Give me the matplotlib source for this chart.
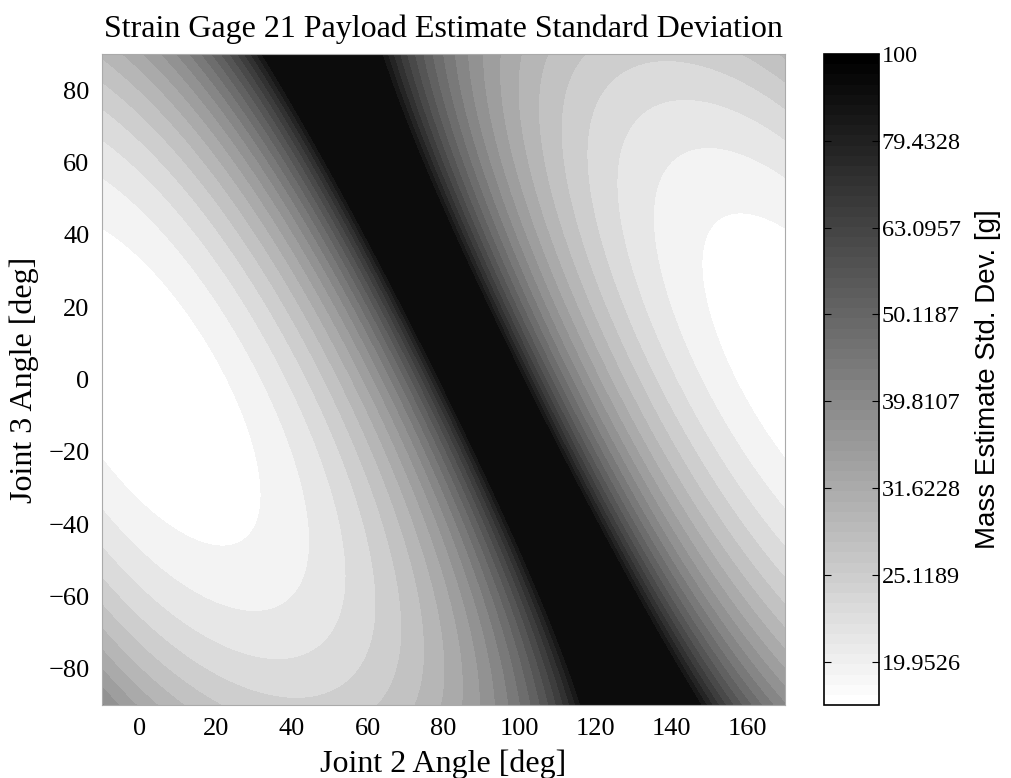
import matplotlib
matplotlib.use('Agg')
import matplotlib.pyplot as plt
from matplotlib.colors import ListedColormap, Normalize
from matplotlib.cm import ScalarMappable
import numpy as np

# joint ranges [deg]
q2_range = [-10, 170]
q3_range = [-90, 90]

# arm model: link lengths (relative) and gauge noise
link_lengths = [1.11, 1.0]
gauge_noise = 37.5
std_cap = 100.0

# colour scale (log10 of grams) and colorbar tick positions
clim = [1.25, 2.0]
cbar_ticks = [1.3, 1.4, 1.5, 1.6, 1.7, 1.8, 1.9, 2.0]
n_levels = 22

q2 = np.linspace(q2_range[0], q2_range[1], 721)
q3 = np.linspace(q3_range[0], q3_range[1], 721)
Q2, Q3 = np.meshgrid(q2, q3)

# moment arm seen by the gauge; payload estimate std scales with 1/|moment|
L2, L3 = link_lengths
moment = L2 * np.cos(np.radians(Q2)) + L3 * np.cos(np.radians(Q2 + Q3))
sd = gauge_noise / np.maximum(np.abs(moment), 1e-9)
Z = np.log10(np.minimum(sd, std_cap))

# 64 step inverted grey map
grey = np.linspace(1, 0, 64)
cmap = ListedColormap([[g, g, g] for g in grey])
norm = Normalize(clim[0], clim[1])

levels = np.linspace(clim[0], clim[1], n_levels)
idx = np.clip(((levels[:-1] - clim[0]) / (clim[1] - clim[0]) * 64).astype(int), 0, 63)
fill_cols = [cmap(i) for i in idx]

serif = ['Liberation Serif', 'DejaVu Serif']
sans = ['Liberation Sans', 'DejaVu Sans']

fig = plt.figure(figsize=(10.11, 7.78), dpi=100)
ax = fig.add_axes([0.1009, 0.0938, 0.6756, 0.8368])
ax.contourf(Q2, Q3, Z, levels=levels, colors=fill_cols, antialiased=False)
ax.set_xlim(q2_range)
ax.set_ylim(q3_range)
ax.set_xticks(np.arange(0, 161, 20))
ax.set_yticks(np.arange(-80, 81, 20))
ax.tick_params(length=0, labelsize=19, pad=9)
for lbl in ax.get_xticklabels() + ax.get_yticklabels():
    lbl.set_fontfamily(serif)
for s in ax.spines.values():
    s.set_color('#aaaaaa')
    s.set_linewidth(0.8)
ax.set_xlabel('Joint 2 Angle [deg]', fontsize=23, family=serif, labelpad=7)
ax.set_ylabel('Joint 3 Angle [deg]', fontsize=23, family=serif, labelpad=7)
ax.set_title('Strain Gage 21 Payload Estimate Standard Deviation', fontsize=23,
             family=serif, pad=12)

cax = fig.add_axes([824 / 1011, 0.0938, 55 / 1011, 0.8368])
sm = ScalarMappable(norm=norm, cmap=cmap)
cb = fig.colorbar(sm, cax=cax)
cb.set_ticks(cbar_ticks)
cb.set_ticklabels(['%g' % float('%.6g' % 10 ** t) for t in cbar_ticks])
cb.outline.set_linewidth(1.2)
cax.tick_params(direction='in', left=True, right=True, length=5, width=0.8,
                labelsize=17.5, pad=2)
for lbl in cax.get_yticklabels():
    lbl.set_fontfamily(serif)
cax.set_ylabel('Mass Estimate Std. Dev. [g]', fontsize=20, family=sans, labelpad=10)

fig.savefig('out.png', dpi=100)
